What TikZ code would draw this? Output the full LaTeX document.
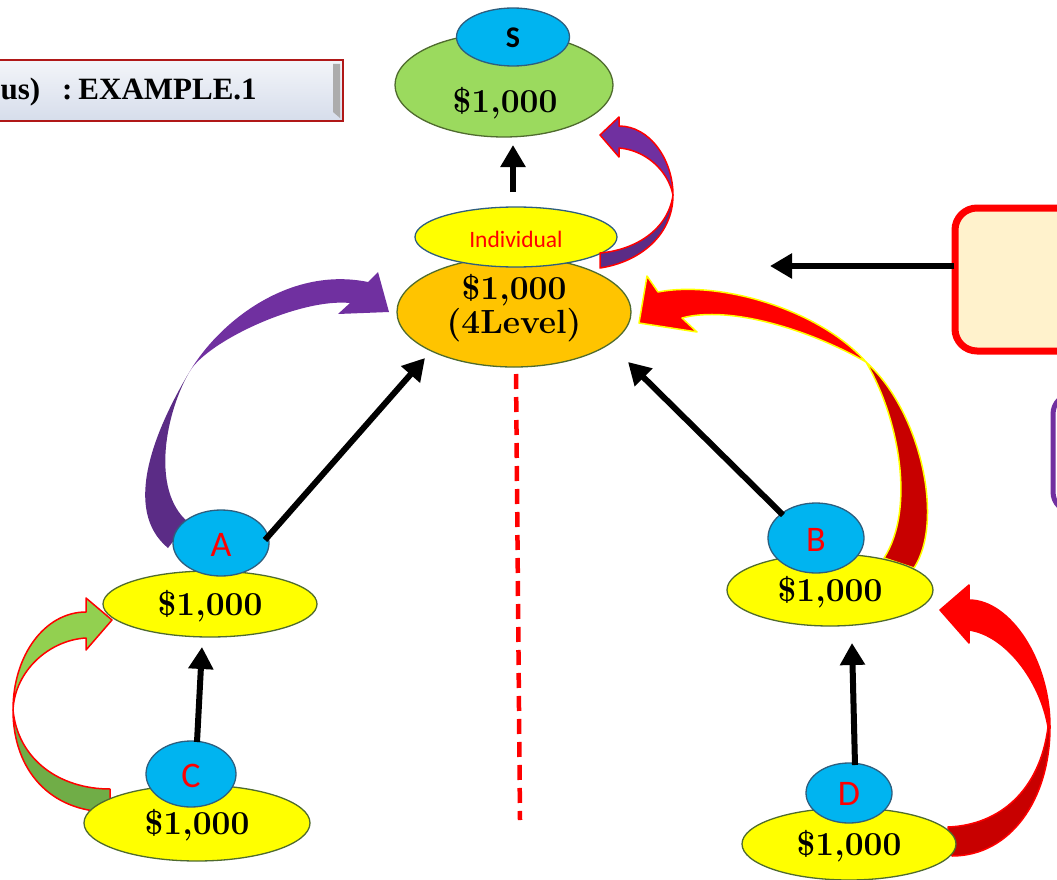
\documentclass[tikz,border=0pt]{standalone}
\usepackage{fontspec}
\newfontfamily\calfont{Carlito}
\newfontfamily\banfont{Liberation Serif}
\usetikzlibrary{shapes.geometric,arrows.meta,calc}
\definecolor{yelF}{HTML}{FFFF00}
\definecolor{oliveD}{HTML}{4F6B2E}
\definecolor{bluF}{HTML}{00B4F0}
\definecolor{bluD}{HTML}{2E5E7E}
\definecolor{grnF}{HTML}{9BDA5E}
\definecolor{orgF}{HTML}{FFC400}
\definecolor{grnL}{HTML}{92D050}
\definecolor{grnD}{HTML}{70AD47}
\definecolor{purL}{HTML}{7030A0}
\definecolor{purD}{HTML}{5B2C86}
\definecolor{redL}{HTML}{FF0000}
\definecolor{redD}{HTML}{C80000}
\definecolor{boxF}{HTML}{FFF2CC}
\definecolor{banF}{HTML}{D6DDEB}
\definecolor{banD}{HTML}{B01818}
\tikzset{
  ell/.style={ellipse, inner sep=0pt, line width=1.3pt},
  yel/.style={ell, fill=yelF, draw=oliveD},
  blu/.style={ell, fill=bluF, draw=bluD},
  money/.style={font=\fontsize{33.5}{34}\selectfont\bfseries, align=center},
  lett/.style={font=\calfont\fontsize{36}{36}\selectfont, text=red},
  blk/.style={line width=6pt, -{Triangle[length=22pt,width=24pt]}},
  bandout/.style={line width=1.5pt, line join=round}
}
\begin{document}
\begin{tikzpicture}[x=1pt,y=-1pt]
\useasboundingbox (0,0) rectangle (1057,880);

% banner
\shade[top color=white!70!banF, bottom color=banF] (-10,60) rectangle (343,121);
\draw[draw=banD, line width=1.6pt] (-10,60) rectangle (343,121);
\fill[gray!65] (333,64) -- (340,64) -- (340,118) -- (333,112) -- cycle;
\node[anchor=west, font=\banfont\bfseries\fontsize{31}{31}\selectfont] (title) at (-3,92) {us)\hspace{22pt}:\hspace{6pt}EXAMPLE.1};

% right boxes
\draw[fill=boxF, draw=redL, line width=7pt, rounded corners=22pt] (955,208) rectangle (1090,351);
\node[inner sep=0pt] (rbox) at (955,266) {};
\draw[fill=white, draw=purL, line width=5pt, rounded corners=20pt] (1053,394) rectangle (1110,512);

% red dashed line
\coordinate (dl1) at (516,374);
\coordinate (dl2) at (520,820);
\draw[red, line width=4.5pt, dash pattern=on 15pt off 8pt] (dl1) -- (dl2);

% curved arrows behind nodes
% green C -> A
\filldraw[fill=grnL, draw=red, bandout] (13,710) .. controls (13,655) and (45,612) .. (86,612) -- (86,598) -- (112,620) -- (86,650) -- (86,638) .. controls (50,640) and (15,670) .. (13,710) -- cycle;
\filldraw[fill=grnD, draw=red, bandout] (13,710) .. controls (13,770) and (50,812) .. (110,812) -- (110,789) .. controls (60,789) and (18,760) .. (13,710) -- cycle;
% purple A -> main
\fill[purL] (190,371) .. controls (220,321) and (290,266) .. (368,282) -- (378,272) -- (389,312) -- (338,314) -- (350,303) .. controls (300,298) and (208,341) .. (190,371) -- cycle;
\fill[purD] (190,371) .. controls (154,431) and (122,510) .. (168,548) -- (188,522) .. controls (150,490) and (166,411) .. (190,371) -- cycle;
% red B -> main
\filldraw[fill=redL, draw=yelF, bandout] (866,362) .. controls (820,310) and (720,280) .. (658,292) -- (647,276) -- (639,323) -- (697,332) -- (682,318) .. controls (730,305) and (810,330) .. (866,362) -- cycle;
\filldraw[fill=redD, draw=yelF, bandout] (866,362) .. controls (920,410) and (945,520) .. (914,568) -- (884,558) .. controls (915,510) and (900,420) .. (866,362) -- cycle;
% red D -> B
\filldraw[fill=redL, draw=redL, bandout] (1050,727) .. controls (1050,660) and (1010,600) .. (969,600) -- (969,585) -- (940,610) -- (969,643) -- (969,630) .. controls (1005,635) and (1040,680) .. (1048,727) -- cycle;
\filldraw[fill=redD, draw=redL, bandout] (1050,727) .. controls (1050,800) and (1010,856) .. (952,856) -- (948,827) .. controls (1000,825) and (1040,790) .. (1048,727) -- cycle;

% S node
\node[ell, fill=grnF, draw=oliveD, minimum width=218pt, minimum height=104pt] (S) at (504,85) {};
\node[money] (Sval) at (505,103) {\$1,000};
\node[blu, minimum width=113pt, minimum height=58pt] (Stop) at (513,37) {};
\node[font=\calfont\bfseries\fontsize{30}{30}\selectfont] (Slab) at (513,38) {S};

% main node
\node[ell, fill=orgF, draw=oliveD, minimum width=234pt, minimum height=110pt] (M) at (514,312) {};
\node[money] (Mval) at (514,308) {\$1,000\\(4Level)};
\node[ell, fill=yelF, draw=bluD, minimum width=202pt, minimum height=60pt] (Ind) at (516,237) {};
\node[font=\calfont\fontsize{23.5}{24}\selectfont, text=red] (Indl) at (516,239) {Individual};

% purple arrow main -> S (on top)
\filldraw[fill=purL, draw=red, bandout] (673,195) .. controls (673,160) and (650,126) .. (619,126) -- (619,117) -- (600,135) -- (619,157) -- (619,148) .. controls (645,150) and (668,170) .. (673,195) -- cycle;
\filldraw[fill=purD, draw=red, bandout] (673,195) .. controls (673,235) and (640,262) .. (600,268) -- (600,253) .. controls (635,250) and (668,230) .. (673,195) -- cycle;

% A node
\node[yel, minimum width=214pt, minimum height=66pt] (A) at (210,604) {};
\node[money] (Aval) at (210,606) {\$1,000};
\node[blu, minimum width=96pt, minimum height=66pt] (Atop) at (221,543) {};
\node[lett] (Alab) at (221,545) {A};

% C node
\node[yel, minimum width=226pt, minimum height=76pt] (C) at (197,823) {};
\node[money] (Cval) at (197,825) {\$1,000};
\node[blu, minimum width=90pt, minimum height=66pt] (Ctop) at (191,774) {};
\node[lett] (Clab) at (191,776) {C};

% B node
\node[yel, minimum width=206pt, minimum height=72pt] (B) at (830,590) {};
\node[money] (Bval) at (830,592) {\$1,000};
\node[blu, minimum width=96pt, minimum height=70pt] (Btop) at (816,538) {};
\node[lett] (Blab) at (816,540) {B};

% D node
\node[yel, minimum width=214pt, minimum height=72pt] (D) at (849,844) {};
\node[money] (Dval) at (849,846) {\$1,000};
\node[blu, minimum width=86pt, minimum height=60pt] (Dtop) at (849,793) {};
\node[lett] (Dlab) at (849,794) {D};

% black arrows
\coordinate (m1) at (513,192);
\coordinate (s1) at (513,145);
\draw[blk] (m1) -- (s1);
\coordinate (a1) at (265,540);
\coordinate (ma) at (425,358);
\draw[blk] (a1) -- (ma);
\coordinate (b1) at (783,515);
\coordinate (mb) at (628,362);
\draw[blk] (b1) -- (mb);
\coordinate (c1) at (197,742);
\coordinate (ac) at (202,647);
\draw[blk] (c1) -- (ac);
\coordinate (d1) at (855,765);
\coordinate (bd) at (852,643);
\draw[blk] (d1) -- (bd);
\coordinate (mr) at (770,266);
\draw[blk] (rbox.west) -- (mr);
\end{tikzpicture}
\end{document}
